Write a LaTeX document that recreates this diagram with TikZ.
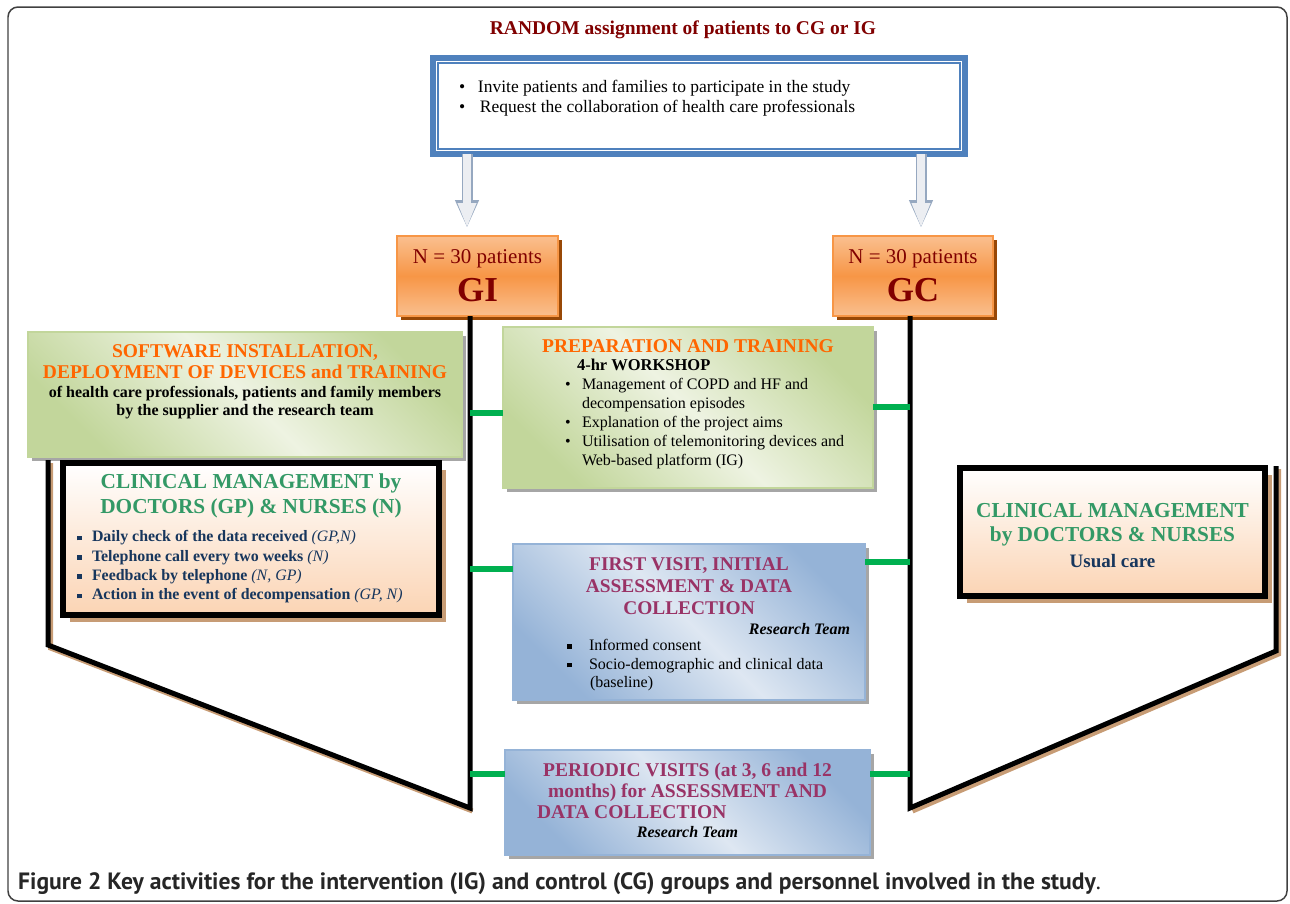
\documentclass[tikz,border=0pt]{standalone}
\usepackage{fontspec}
\setmainfont{Liberation Serif}
\newfontfamily\captionfont{PT Sans}
\usetikzlibrary{arrows.meta,shadows}

\definecolor{titlered}{RGB}{128,0,0}
\definecolor{boxblue}{RGB}{79,129,189}
\definecolor{orangehead}{RGB}{255,102,0}
\definecolor{greenhead}{RGB}{51,153,102}
\definecolor{navytext}{RGB}{23,54,93}
\definecolor{plumhead}{RGB}{153,51,102}
\definecolor{linkgreen}{RGB}{0,176,80}
\definecolor{greendark}{RGB}{194,214,155}
\definecolor{greenlight}{RGB}{238,243,226}
\definecolor{bluedark}{RGB}{149,179,215}
\definecolor{bluelight}{RGB}{222,231,242}
\definecolor{orangemid}{RGB}{247,150,70}
\definecolor{orangelight}{RGB}{250,191,143}
\definecolor{peach}{RGB}{251,212,180}
\definecolor{tanshadow}{RGB}{199,156,117}
\definecolor{brownshadow}{RGB}{152,72,7}
\definecolor{arrowfill}{RGB}{236,238,242}
\definecolor{arrowedge}{RGB}{150,168,192}

\newlength\pxu
\setlength\pxu{0.02cm}
\newcommand\pxsize[2]{\fontsize{#1\pxu}{#2\pxu}\selectfont}
\newcommand\panel[4]{\begin{minipage}[c][#2\pxu][t]{#1\pxu}\vspace*{#3\pxu}#4\end{minipage}}
\newcommand\sqbullet{\raisebox{0.1em}{\rule{0.3em}{0.3em}}}
\newcommand\rowitem[3]{\hspace*{#1\pxu}\makebox[#2\pxu][l]{#3}}

\begin{document}
\begin{tikzpicture}
[x=0.02cm,y=-0.02cm
,box/.style={inner sep=0pt,outer sep=0pt}
,titletext/.style={font=\bfseries\pxsize{19.5}{21},text=titlered}
,invitebox/.style={box,draw=boxblue,line width=0.11cm,fill=white}
,inviteinner/.style={draw=boxblue,line width=0.03cm}
,countbox/.style={box,draw=orangemid,line width=0.03cm,top color=orangelight,bottom color=orangelight,middle color=orangemid,drop shadow={shadow xshift=0.07cm,shadow yshift=-0.07cm,fill=brownshadow,opacity=1}}
,greenbox/.style={box,draw=greendark,line width=0.03cm,top color=greendark,bottom color=greendark,middle color=greenlight,shading angle=-45,drop shadow={shadow xshift=0.08cm,shadow yshift=-0.08cm,fill=black!35,opacity=1}}
,bluebox/.style={box,draw=bluedark,line width=0.03cm,top color=bluedark,bottom color=bluedark,middle color=bluelight,shading angle=-45,drop shadow={shadow xshift=0.08cm,shadow yshift=-0.08cm,fill=black!35,opacity=1}}
,clinbox/.style={box,draw=black,line width=0.12cm,top color=white,bottom color=peach,drop shadow={shadow xshift=0.14cm,shadow yshift=-0.14cm,fill=tanshadow,opacity=1}}
,flow/.style={draw=arrowfill,line width=0.16cm,-{Triangle[length=0.5cm,width=0.34cm]},shorten >=0.16cm,preaction={draw=arrowedge,line width=0.22cm,-{Triangle[length=0.56cm,width=0.44cm]}}}
,spine/.style={draw=black,line width=0.1cm}
,spineshade/.style={draw=tanshadow,line width=0.1cm,transform canvas={xshift=0.05cm,yshift=-0.06cm}}
,link/.style={draw=linkgreen,line width=0.12cm}
,frame/.style={draw=black!75,line width=0.03cm,rounded corners=0.2cm}]
\useasboundingbox (0,0) rectangle (1290,903);
\draw[frame] (8,7) rectangle (1287,901);

\node[titletext] (title) at (683,30) {RANDOM assignment of patients to CG or IG};

\node[invitebox] (invite) at (699,106) {\panel{532}{96}{22}{\pxsize{17.5}{20}%
\rowitem{26}{19}{\textbullet}Invite patients and families to participate in the study\par
\rowitem{26}{21}{\textbullet}Request the collaboration of health care professionals\par}};

% groups
\node[countbox] (gi) at (477.5,276) {\panel{161}{80}{13.7}{\centering\color{titlered}\pxsize{21}{24}N = 30 patients\par
\pxsize{35}{37.6}\bfseries GI\par}};
\node[countbox] (gc) at (913,276) {\panel{160}{80}{13.7}{\centering\color{titlered}\pxsize{21}{24}N = 30 patients\par
\pxsize{35}{37.6}\bfseries GC\par}};

\draw[flow] (invite.south -| 467,0) -- (gi.north -| 467,0);
\draw[flow] (invite.south -| 921,0) -- (gc.north -| 921,0);
\draw[inviteinner] ([shift={(5,5)}]invite.north west) rectangle ([shift={(-5,-5)}]invite.south east);

% activity boxes
\node[greenbox] (software) at (245,394.5) {\panel{434}{125}{13}{\centering\bfseries
{\color{orangehead}\pxsize{19.5}{21}SOFTWARE INSTALLATION,\\DEPLOYMENT OF DEVICES and TRAINING\par}
{\pxsize{16}{18.5}of health care professionals, patients and family members\\by the supplier and the research team\par}}};

\node[greenbox] (prep) at (688,407.5) {\panel{370}{161}{13}{%
{\centering\bfseries\color{orangehead}\pxsize{19.5}{21}PREPARATION AND TRAINING\par}
{\bfseries\pxsize{16.5}{18}\hspace*{74\pxu}4-hr WORKSHOP\par}
\pxsize{16}{19}%
\rowitem{62}{17}{\textbullet}Management of COPD and HF and\par
\hspace*{79\pxu}decompensation episodes\par
\rowitem{62}{17}{\textbullet}Explanation of the project aims\par
\rowitem{62}{17}{\textbullet}Utilisation of telemonitoring devices and\par
\hspace*{79\pxu}Web-based platform (IG)\par}};

\node[clinbox] (clinig) at (251,539) {\panel{376}{152}{10.5}{%
{\centering\bfseries\color{greenhead}\pxsize{21.3}{25}CLINICAL MANAGEMENT by\\DOCTORS (GP) \& NURSES (N)\par}
\vspace{9.4\pxu}
\bfseries\color{navytext}\pxsize{15.9}{19.3}%
\rowitem{14}{15}{\sqbullet}Daily check of the data received \textmd{\textit{(GP,N)}}\par
\rowitem{14}{15}{\sqbullet}Telephone call every two weeks \textmd{\textit{(N)}}\par
\rowitem{14}{15}{\sqbullet}Feedback by telephone \textmd{\textit{(N, GP)}}\par
\rowitem{14}{15}{\sqbullet}Action in the event of decompensation \textmd{\textit{(GP, N)}}\par}};

\node[bluebox] (first) at (689,622) {\panel{352}{156}{13.2}{%
{\centering\bfseries\color{plumhead}\pxsize{19.4}{22}FIRST VISIT, INITIAL\\ASSESSMENT \& DATA\\COLLECTION\par}
{\raggedleft\bfseries\itshape\pxsize{16}{20}Research Team\hspace*{15\pxu}\par}
\pxsize{16}{18.5}\vspace{-2\pxu}%
\rowitem{54}{22}{\sqbullet}Informed consent\par
\rowitem{54}{22}{\sqbullet}Socio-demographic and clinical data\par
\hspace*{77\pxu}(baseline)\par}};

\node[bluebox] (periodic) at (687.5,802.5) {\panel{365}{105}{13.2}{%
{\centering\bfseries\color{plumhead}\pxsize{19.5}{21}PERIODIC VISITS (at 3, 6 and 12\\months) for ASSESSMENT AND\par}
{\bfseries\color{plumhead}\pxsize{19.5}{21}\hspace*{32\pxu}DATA COLLECTION\par}
{\centering\bfseries\itshape\pxsize{16}{19}Research Team\par}}};

\node[clinbox] (clincg) at (1112.5,532) {\panel{305}{128}{35.5}{\centering\bfseries
{\color{greenhead}\pxsize{21.3}{24}CLINICAL MANAGEMENT\\by DOCTORS \& NURSES\par}
{\color{navytext}\pxsize{19}{26}Usual care\par}}};

% timelines
\coordinate (gibase) at (470,808);
\coordinate (lbend) at (48,645);
\coordinate (ltop) at (48,460);
\coordinate (gcbase) at (910,808);
\coordinate (rbend) at (1276,651);
\coordinate (rtop) at (1276,466);
\draw[spineshade] (gibase) -- (lbend) -- (ltop);
\draw[spineshade] (gcbase) -- (rbend) -- (rtop);
\draw[spine] (gi.south -| gibase) -- (gibase) -- (lbend) -- (ltop);
\draw[spine] (gc.south -| gcbase) -- (gcbase) -- (rbend) -- (rtop);

\draw[link] (gibase |- 0,413) -- (prep.west |- 0,413);
\draw[link] (prep.east |- 0,407) -- (gcbase |- 0,407);
\draw[link] (gibase |- 0,569) -- (first.west |- 0,569);
\draw[link] (first.east |- 0,562) -- (gcbase |- 0,562);
\draw[link] (gibase |- 0,774) -- (periodic.west |- 0,774);
\draw[link] (periodic.east |- 0,774) -- (gcbase |- 0,774);

\node[anchor=west,font=\captionfont\pxsize{23.6}{25},text=black!85] (caption) at (12,884) {\textbf{Figure 2 Key activities for the intervention (IG) and control (CG) groups and personnel involved in the study}.};
\end{tikzpicture}
\end{document}
